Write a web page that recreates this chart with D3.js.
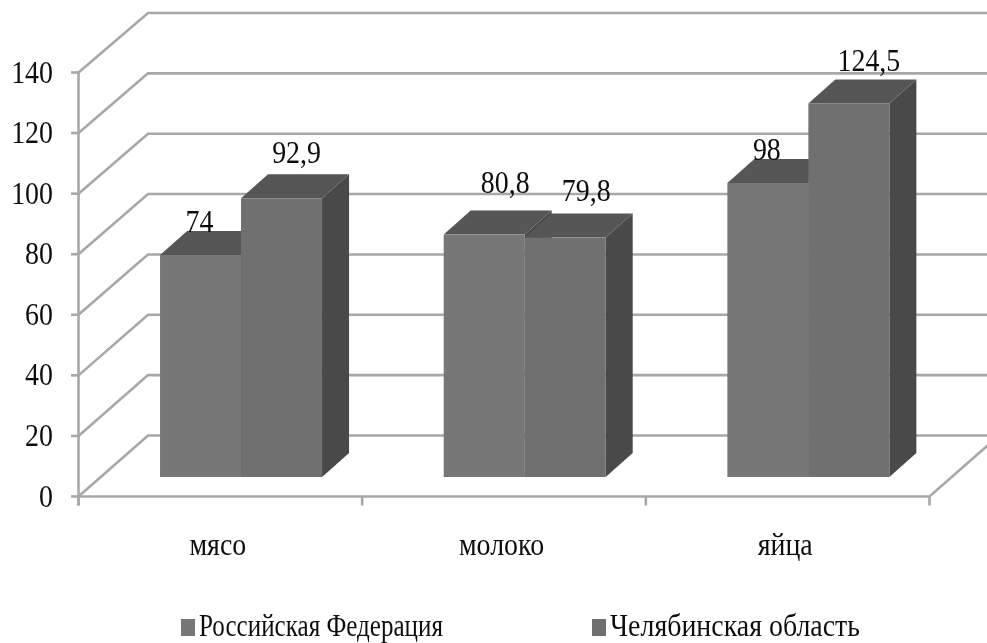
<!DOCTYPE html>
<html><head><meta charset="utf-8">
<script src="https://cdn.jsdelivr.net/npm/d3@7"></script>
<style>html,body{margin:0;padding:0;background:#fff}svg{display:block}text{font-family:"Liberation Serif",serif;fill:#111}</style>
</head><body><svg id="c" width="987" height="643"></svg>
<script>
const categories = ["мясо","молоко","яйца"];
const seriesNames = ["Российская Федерация","Челябинская область"];
const russia = [74,80.8,98];
const chelyabinsk = [92.9,79.8,124.5];
const valueLabels = [["74","80,8","98"],["92,9","79,8","124,5"]];
const yTicks = [0,20,40,60,80,100,120,140];

const W=987,H=643;
const svg=d3.select("#c");
const defs=svg.append("defs");
defs.append("clipPath").attr("id","page").append("rect").attr("width",W).attr("height",H);
const soft=defs.append("filter").attr("id","soft").attr("filterUnits","userSpaceOnUse").attr("x",0).attr("y",0).attr("width",W).attr("height",H);
soft.append("feGaussianBlur").attr("stdDeviation",0.6);

const x=d3.scaleBand().domain(categories).range([78.5,929.5]);
const yFront=d3.scaleLinear().domain([0,140]).range([496.5,72.5]);
const wallDx=69.5, wallDy=-61;
const yBack=v=>yFront(v)+wallDy+(v/140)*1.5;
const yBar=d3.scaleLinear().domain([0,140]).range([477,57]);
const barW=81, barShift=20.7, depthX=27, depthY=-24;
const seriesX=d3.scaleBand().domain([0,1]).range([-barW,barW]);

const grid="#a8a8a8", lw=2.6;
const g=svg.append("g").attr("clip-path","url(#page)").append("g").attr("filter","url(#soft)");

yTicks.forEach(v=>{
  g.append("path").attr("fill","none").attr("stroke",grid).attr("stroke-width",lw)
   .attr("d",d3.line()([[x.range()[0],yFront(v)],[x.range()[0]+wallDx,yBack(v)],[x.range()[1]+wallDx,yBack(v)]]));
});
g.append("path").attr("fill","none").attr("stroke",grid).attr("stroke-width",lw)
 .attr("d",d3.line()([[x.range()[0],yFront(0)],[x.range()[1],yFront(0)],[x.range()[1]+wallDx,yBack(0)]]));
g.append("line").attr("x1",x.range()[0]).attr("x2",x.range()[0]).attr("y1",yFront(140)).attr("y2",yFront(0)+9).attr("stroke",grid).attr("stroke-width",lw);
yTicks.forEach(v=>g.append("line").attr("x1",71).attr("x2",x.range()[0]).attr("y1",yFront(v)).attr("y2",yFront(v)).attr("stroke",grid).attr("stroke-width",lw));
const boundaries=[x.range()[0],...categories.map(c=>x(c)+x.bandwidth())];
boundaries.forEach(b=>g.append("line").attr("x1",b).attr("x2",b).attr("y1",yFront(0)).attr("y2",yFront(0)+9).attr("stroke",grid).attr("stroke-width",lw));

const faceCols=["#777777","#6f6f6f"], topCol="#565656", sideCol="#494949";
function drawBar(c,s,v){
  const x0=x(c)+x.bandwidth()/2+barShift+seriesX(s), x1=x0+barW, y0=yBar(0), yt=yBar(v);
  const p=d3.line();
  g.append("path").attr("fill",sideCol).attr("d",p([[x1,y0],[x1+depthX,y0+depthY],[x1+depthX,yt+depthY],[x1,yt]])+"Z");
  g.append("path").attr("fill",topCol).attr("d",p([[x0,yt],[x0+depthX,yt+depthY],[x1+depthX,yt+depthY],[x1,yt]])+"Z");
  g.append("rect").attr("x",x0).attr("y",yt).attr("width",barW).attr("height",y0-yt).attr("fill",faceCols[s]);
}
categories.forEach((c,i)=>{drawBar(c,0,russia[i]);drawBar(c,1,chelyabinsk[i]);});

const t=g.append("g");
function label(px,py,str,anchor){
  return t.append("text").attr("transform",`translate(${px},${py}) scale(0.9,1)`).attr("text-anchor",anchor).attr("font-size",31).text(str);
}
yTicks.forEach(v=>label(53,yFront(v)+10,v,"end"));
categories.forEach(c=>label(x(c)+x.bandwidth()/2-2.5,555,c,"middle"));

const labelNudge=[[[-1,-23],[21,-41.5],[-1,-23]],[[15,-35],[21,-37],[20,-33]]];
[russia,chelyabinsk].forEach((vals,s)=>vals.forEach((v,i)=>{
  const c=categories[i];
  const cx=x(c)+x.bandwidth()/2+barShift+seriesX(s)+barW/2;
  label(cx+labelNudge[s][i][0],yBar(v)+labelNudge[s][i][1],valueLabels[s][i],"middle");
}));

const legendX=[181,592], legendLen=[244,250];
seriesNames.forEach((n,i)=>{
  t.append("rect").attr("x",legendX[i]).attr("y",619).attr("width",14).attr("height",17).attr("fill",faceCols[i]);
  t.append("text").attr("x",legendX[i]+18).attr("y",636).attr("font-size",31).attr("textLength",legendLen[i]).attr("lengthAdjust","spacingAndGlyphs").text(n);
});
</script></body></html>
